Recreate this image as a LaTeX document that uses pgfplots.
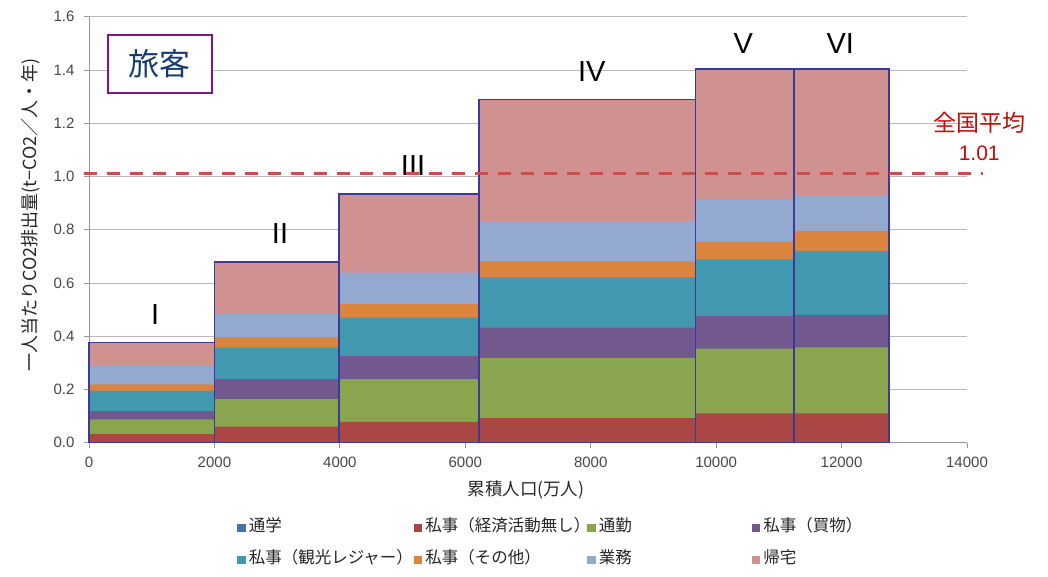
\documentclass[border=0pt]{standalone}
\usepackage{fontspec}
\setmainfont{Noto Sans CJK JP}
\newfontfamily\lib{Liberation Sans}
\usepackage{pgfplots}
\pgfplotsset{compat=1.18}
\usepackage{pgfplotstable}
\definecolor{cTsugaku}{RGB}{69,114,167}
\definecolor{cKeizai}{RGB}{170,70,67}
\definecolor{cTsukin}{RGB}{137,165,78}
\definecolor{cKaimono}{RGB}{113,88,143}
\definecolor{cKanko}{RGB}{65,152,175}
\definecolor{cSonota}{RGB}{219,132,61}
\definecolor{cGyomu}{RGB}{147,169,207}
\definecolor{cKitaku}{RGB}{208,146,145}
\definecolor{barline}{RGB}{58,58,155}
\definecolor{axgray}{RGB}{150,150,150}
\definecolor{gridgray}{RGB}{185,185,185}
\definecolor{tickgray}{RGB}{70,70,70}
\definecolor{avgred}{RGB}{205,78,72}
\definecolor{txtred}{RGB}{200,10,10}
\definecolor{boxpurple}{RGB}{130,20,140}
\definecolor{boxblue}{RGB}{20,60,110}
\pgfplotsset{
  lay/.style={ybar interval, draw=none, fill=#1,
    legend image code/.code={\fill[#1] (0pt,-1pt) rectangle (8.5pt,7.5pt);}},
}
% cumulative tops of each layer (t-CO2 per person per year); x = cumulative population (10^4 persons)
\pgfplotstableread{
x     c1     c2     c3     c4     c5     c6     c7     c8
0     0.003  0.032  0.088  0.119  0.195  0.219  0.288  0.377
2000  0.003  0.060  0.164  0.239  0.357  0.396  0.483  0.678
3990  0.005  0.078  0.239  0.326  0.470  0.521  0.639  0.934
6220  0.005  0.092  0.319  0.432  0.621  0.681  0.832  1.290
9670  0.005  0.110  0.353  0.476  0.689  0.755  0.915  1.404
11244 0.005  0.110  0.358  0.480  0.721  0.795  0.930  1.404
12760 0      0      0      0      0      0      0      0
}\cum
\begin{document}
\begin{tikzpicture}
\useasboundingbox (-89pt,-134.3pt) rectangle (959pt,442.7pt);
\begin{axis}[
  at={(0pt,0pt)}, anchor=south west,
  scale only axis, width=878pt, height=425.9pt,
  xmin=0, xmax=14000, ymin=0, ymax=1.6,
  axis x line*=bottom, axis y line*=left,
  axis line style={draw=axgray, line width=0.8pt},
  xtick={0,2000,4000,6000,8000,10000,12000,14000},
  ytick={0,0.2,0.4,0.6,0.8,1.0,1.2,1.4,1.6},
  scaled x ticks=false, scaled y ticks=false,
  tick align=outside, major tick length=5pt,
  tick style={draw=axgray, line width=0.8pt},
  ymajorgrids, grid style={draw=gridgray, line width=0.9pt},
  /pgf/number format/assume math mode=true,
  ticklabel style={font=\lib\fontsize{15}{18}\selectfont, text=tickgray},
  y tick label style={/pgf/number format/.cd, fixed, fixed zerofill, precision=1, /tikz/.cd, xshift=-6pt},
  x tick label style={/pgf/number format/.cd, 1000 sep={}, /tikz/.cd, yshift=-6pt},
  clip=false,
  xlabel={累積人口(万人)},
  xlabel style={at={(axis description cs:0.4977,-0.111)}, anchor=center, font=\fontsize{17.5}{19}\selectfont, text=black!85},
  ylabel={一人当たりCO2排出量(t−CO2／人・年)},
  ylabel style={at={(axis description cs:-0.066,0.535)}, anchor=center, font=\fontsize{18}{20}\selectfont, text=black!85},
  reverse legend,
  legend columns=4,
  legend style={draw=none, fill=none, at={(axis description cs:0.1652,-0.172)}, anchor=north west,
    font=\fontsize{16.5}{19}\selectfont, text=black!85,
    nodes={inner sep=0pt, text height=13pt, text depth=3pt, anchor=base west},
    /tikz/every odd column/.style={column sep=3pt},
    /tikz/every even column/.style={column sep=0pt},
    /tikz/row sep=16pt},
]
\addplot[lay=cKitaku] table[x=x,y=c8]{\cum};
\addlegendentry{帰宅}
\addplot[lay=cGyomu] table[x=x,y=c7]{\cum};
\addlegendentry{\makebox[153pt][l]{業務}}
\addplot[lay=cSonota] table[x=x,y=c6]{\cum};
\addlegendentry{\makebox[162pt][l]{私事（その他）}}
\addplot[lay=cKanko] table[x=x,y=c5]{\cum};
\addlegendentry{\makebox[165pt][l]{私事（観光レジャー）}}
\addplot[lay=cKaimono] table[x=x,y=c4]{\cum};
\addlegendentry{私事（買物）}
\addplot[lay=cTsukin] table[x=x,y=c3]{\cum};
\addlegendentry{\makebox[153pt][l]{通勤}}
\addplot[lay=cKeizai] table[x=x,y=c2]{\cum};
\addlegendentry{\makebox[162pt][l]{私事（経済活動無し）}}
\addplot[lay=cTsugaku] table[x=x,y=c1]{\cum};
\addlegendentry{\makebox[165pt][l]{通学}}
\addplot[ybar interval, draw=barline, fill=none, line width=1.5pt, forget plot] table[x=x,y=c8]{\cum};
\node[font=\lib\fontsize{29}{29}\selectfont] at (axis cs:1053,0.48) {I};
\node[font=\lib\fontsize{29}{29}\selectfont] at (axis cs:3046,0.787) {II};
\node[font=\lib\fontsize{29}{29}\selectfont] at (axis cs:5167,1.043) {III};
\node[font=\lib\fontsize{29}{29}\selectfont] at (axis cs:8017,1.394) {IV};
\node[font=\lib\fontsize{29}{29}\selectfont] at (axis cs:10431,1.498) {V};
\node[font=\lib\fontsize{29}{29}\selectfont] at (axis cs:11978,1.498) {VI};
\addplot[forget plot, draw=avgred, line width=3.3pt, dash pattern=on 13pt off 10pt] coordinates {(-80,1.012) (14260,1.012)};
\node[font=\fontsize{23}{23}\selectfont, text=txtred] at (axis cs:14195,1.201) {全国平均};
\node[font=\lib\fontsize{21}{21}\selectfont, text=txtred] at (axis cs:14195,1.088) {1.01};
\node[draw=boxpurple, line width=2pt, fill=white, minimum width=104.6pt, minimum height=58pt, inner sep=0pt, font=\fontsize{31}{31}\selectfont, text=boxblue] at (axis cs:1132,1.4226) {旅客};
\end{axis}
\end{tikzpicture}
\end{document}
